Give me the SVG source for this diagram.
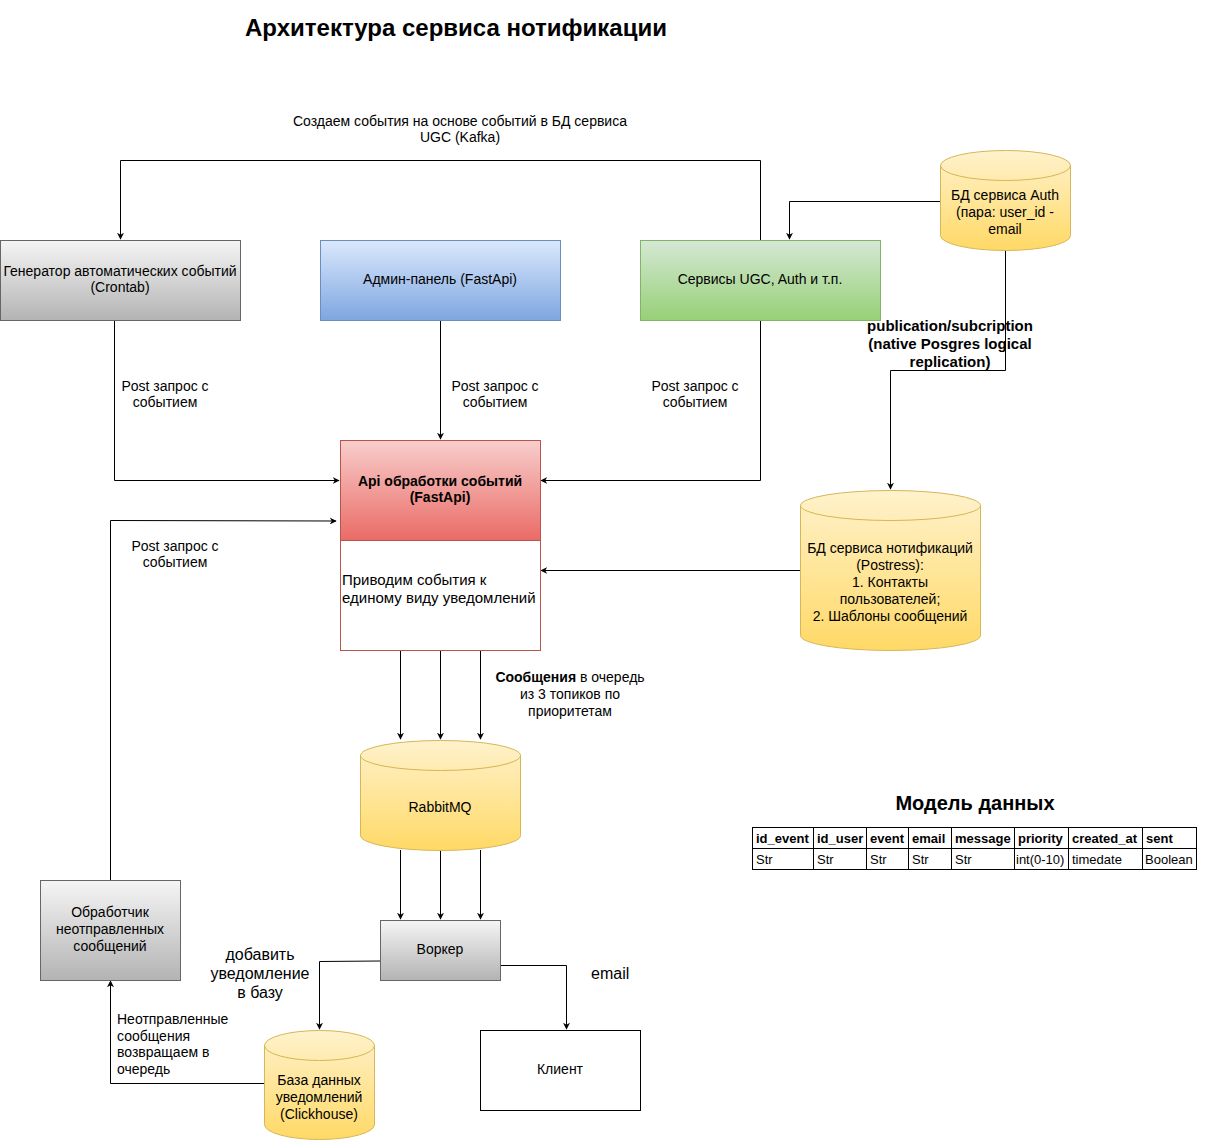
<svg xmlns="http://www.w3.org/2000/svg" width="1231" height="1141" viewBox="0 0 1231 1141">
<defs>
<linearGradient id="gGray" x1="0" y1="0" x2="0" y2="1"><stop offset="0" stop-color="#f5f5f5"/><stop offset="1" stop-color="#b3b3b3"/></linearGradient>
<linearGradient id="gBlue" x1="0" y1="0" x2="0" y2="1"><stop offset="0" stop-color="#dae8fc"/><stop offset="1" stop-color="#7ea6e0"/></linearGradient>
<linearGradient id="gGreen" x1="0" y1="0" x2="0" y2="1"><stop offset="0" stop-color="#d5e8d4"/><stop offset="1" stop-color="#97d077"/></linearGradient>
<linearGradient id="gRed" x1="0" y1="0" x2="0" y2="1"><stop offset="0" stop-color="#f8cecc"/><stop offset="1" stop-color="#ea6b66"/></linearGradient>
<linearGradient id="gYellow" x1="0" y1="0" x2="0" y2="1"><stop offset="0" stop-color="#fff2cc"/><stop offset="1" stop-color="#ffd966"/></linearGradient>
<marker id="arr" viewBox="0 0 10 10" refX="9" refY="5" markerWidth="7" markerHeight="7" orient="auto" markerUnits="userSpaceOnUse"><path d="M0,0 L10,5 L0,10 L3,5 Z" fill="#000"/></marker>
</defs>
<style>
text{font-family:"Liberation Sans",Arial,sans-serif;font-size:14px;fill:#000}
.c{text-anchor:middle}
.b{font-weight:bold}
.t{font-size:13px}
.line{fill:none;stroke:#000;stroke-width:1}
.arrow{fill:none;stroke:#000;stroke-width:1;marker-end:url(#arr)}
.cyl{fill:url(#gYellow);stroke:#d6b656}
.cell{fill:#fff;stroke:#000}
</style>
<rect width="1231" height="1141" fill="#fff"/>

<text class="c b" x="456" y="36" style="font-size:24px">Архитектура сервиса нотификации</text>

<g id="connectors">
<path class="arrow" d="M760.5,240 V160.5 H120.5 V239"/>
<path class="arrow" d="M940,201.5 H789.5 V239"/>
<path class="arrow" d="M1005.5,250 V370.5 H890.5 V489"/>
<path class="arrow" d="M114.5,320 V480.5 H339"/>
<path class="arrow" d="M440.5,320 V439"/>
<path class="arrow" d="M760.5,320 V480.5 H541"/>
<path class="arrow" d="M110.5,880 V520.5 L336,521"/>
<path class="arrow" d="M800,570.5 H541"/>
<path class="arrow" d="M400.5,650 V739"/>
<path class="arrow" d="M440.5,650 V739"/>
<path class="arrow" d="M480.5,650 V739"/>
<path class="arrow" d="M400.5,850 V919"/>
<path class="arrow" d="M440.5,850 V919"/>
<path class="arrow" d="M480.5,850 V919"/>
<path class="arrow" d="M380,961 L319.5,961.5 V1029"/>
<path class="arrow" d="M500,965.5 H566.5 V1029"/>
<path class="arrow" d="M264,1083.5 H110.5 V981"/>
</g>

<g id="edge-labels">
<text class="c" x="460" y="126">Создаем события на основе событий в БД сервиса</text>
<text class="c" x="460" y="142">UGC (Kafka)</text>
<text class="c b" x="950" y="331" style="font-size:15px">publication/subcription</text>
<text class="c b" x="950" y="349" style="font-size:15px">(native Posgres logical</text>
<text class="c b" x="950" y="367" style="font-size:15px">replication)</text>
<text class="c" x="165" y="391">Post запрос с</text>
<text class="c" x="165" y="407">событием</text>
<text class="c" x="495" y="391">Post запрос с</text>
<text class="c" x="495" y="407">событием</text>
<text class="c" x="695" y="391">Post запрос с</text>
<text class="c" x="695" y="407">событием</text>
<text class="c" x="175" y="551">Post запрос с</text>
<text class="c" x="175" y="567">событием</text>
<text class="c" x="570" y="682"><tspan class="b">Сообщения</tspan> в очередь</text>
<text class="c" x="570" y="699">из 3 топиков по</text>
<text class="c" x="570" y="716">приоритетам</text>
<text class="c" x="260" y="960" style="font-size:16px">добавить</text>
<text class="c" x="260" y="979" style="font-size:16px">уведомление</text>
<text class="c" x="260" y="998" style="font-size:16px">в базу</text>
<text x="591" y="979" style="font-size:16px">email</text>
<text x="117" y="1024">Неотправленные</text>
<text x="117" y="1041">сообщения</text>
<text x="117" y="1057">возвращаем в</text>
<text x="117" y="1074">очередь</text>
</g>

<g id="generator">
<rect x="0.5" y="240.5" width="240" height="80" fill="url(#gGray)" stroke="#666"/>
<text class="c" x="120" y="276">Генератор автоматических событий</text>
<text class="c" x="120" y="292">(Crontab)</text>
</g>

<g id="admin">
<rect x="320.5" y="240.5" width="240" height="80" fill="url(#gBlue)" stroke="#6c8ebf"/>
<text class="c" x="440" y="284">Админ-панель (FastApi)</text>
</g>

<g id="services">
<rect x="640.5" y="240.5" width="240" height="80" fill="url(#gGreen)" stroke="#82b366"/>
<text class="c" x="760" y="284">Сервисы UGC, Auth и т.п.</text>
</g>

<g id="auth-db">
<path class="cyl" d="M940.5,165.5 A65,15 0 0 1 1070.5,165.5 V235.5 A65,15 0 0 1 940.5,235.5 Z"/>
<path fill="none" stroke="#d6b656" d="M940.5,165.5 A65,15 0 0 0 1070.5,165.5"/>
<text class="c" x="1005" y="200">БД сервиса Auth</text>
<text class="c" x="1005" y="217">(пара: user_id -</text>
<text class="c" x="1005" y="234">email</text>
</g>

<g id="api">
<rect x="340.5" y="440.5" width="200" height="100" fill="url(#gRed)" stroke="#b85450"/>
<rect x="340.5" y="540.5" width="200" height="110" fill="#fff" stroke="#b85450"/>
<text class="c b" x="440" y="486">Api обработки событий</text>
<text class="c b" x="440" y="502">(FastApi)</text>
<text x="342" y="585" style="font-size:15px">Приводим события к</text>
<text x="342" y="603" style="font-size:15px">единому виду уведомлений</text>
</g>

<g id="notif-db">
<path class="cyl" d="M800.5,505.5 A90,15 0 0 1 980.5,505.5 V635.5 A90,15 0 0 1 800.5,635.5 Z"/>
<path fill="none" stroke="#d6b656" d="M800.5,505.5 A90,15 0 0 0 980.5,505.5"/>
<text class="c" x="890" y="553">БД сервиса нотификаций</text>
<text class="c" x="890" y="570">(Postress):</text>
<text class="c" x="890" y="587">1. Контакты</text>
<text class="c" x="890" y="604">пользователей;</text>
<text class="c" x="890" y="621">2. Шаблоны сообщений</text>
</g>

<g id="rabbitmq">
<path class="cyl" d="M360.5,755.5 A80,15 0 0 1 520.5,755.5 V835.5 A80,15 0 0 1 360.5,835.5 Z"/>
<path fill="none" stroke="#d6b656" d="M360.5,755.5 A80,15 0 0 0 520.5,755.5"/>
<text class="c" x="440" y="812">RabbitMQ</text>
</g>

<g id="worker">
<rect x="380.5" y="920.5" width="120" height="60" fill="url(#gGray)" stroke="#666"/>
<text class="c" x="440" y="954">Воркер</text>
</g>

<g id="handler">
<rect x="40.5" y="880.5" width="140" height="100" fill="url(#gGray)" stroke="#666"/>
<text class="c" x="110" y="917">Обработчик</text>
<text class="c" x="110" y="934">неотправленных</text>
<text class="c" x="110" y="951">сообщений</text>
</g>

<g id="clickhouse">
<path class="cyl" d="M264.5,1045.5 A55,15 0 0 1 374.5,1045.5 V1124.5 A55,15 0 0 1 264.5,1124.5 Z"/>
<path fill="none" stroke="#d6b656" d="M264.5,1045.5 A55,15 0 0 0 374.5,1045.5"/>
<text class="c" x="319" y="1085">База данных</text>
<text class="c" x="319" y="1102">уведомлений</text>
<text class="c" x="319" y="1119">(Clickhouse)</text>
</g>

<g id="client">
<rect x="480.5" y="1030.5" width="160" height="80" fill="#fff" stroke="#000"/>
<text class="c" x="560" y="1074">Клиент</text>
</g>

<g id="data-model">
<text class="c b" x="975" y="810" style="font-size:20px">Модель данных</text>
<rect class="cell" x="752.5" y="827.5" width="444" height="42"/>
<path class="line" d="M752.5,848.5 H1196.5 M813.5,827.5 V869.5 M866.5,827.5 V869.5 M908.5,827.5 V869.5 M951.5,827.5 V869.5 M1014.5,827.5 V869.5 M1068.5,827.5 V869.5 M1142.5,827.5 V869.5"/>
<text class="b t" x="756" y="843">id_event</text>
<text class="b t" x="817" y="843">id_user</text>
<text class="b t" x="870" y="843">event</text>
<text class="b t" x="912" y="843">email</text>
<text class="b t" x="955" y="843">message</text>
<text class="b t" x="1018" y="843">priority</text>
<text class="b t" x="1072" y="843">created_at</text>
<text class="b t" x="1146" y="843">sent</text>
<text class="t" x="756" y="864">Str</text>
<text class="t" x="817" y="864">Str</text>
<text class="t" x="870" y="864">Str</text>
<text class="t" x="912" y="864">Str</text>
<text class="t" x="955" y="864">Str</text>
<text class="t" x="1016" y="864">int(0-10)</text>
<text class="t" x="1072" y="864">timedate</text>
<text class="t" x="1145" y="864">Boolean</text>
</g>
</svg>
